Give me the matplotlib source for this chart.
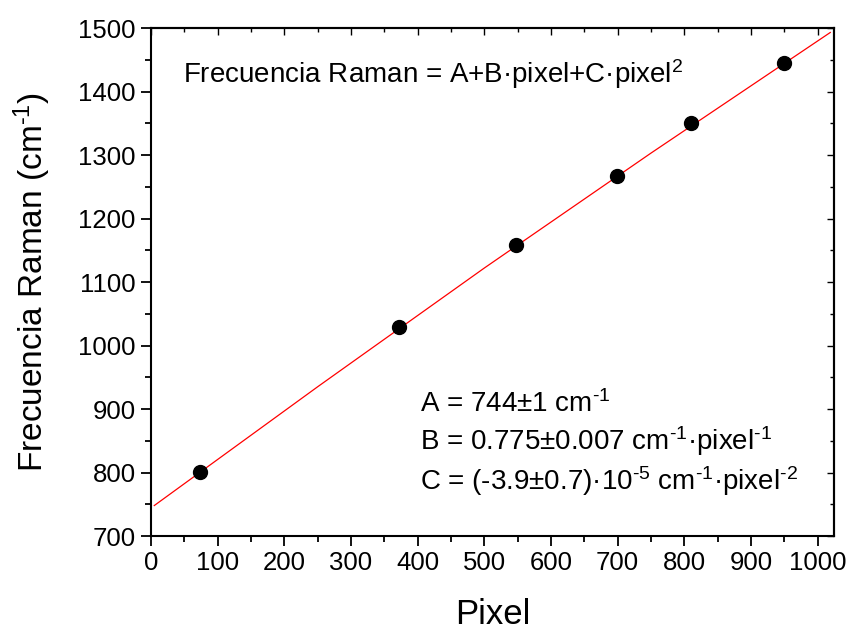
import numpy as np
import matplotlib
matplotlib.use('Agg')
import matplotlib.pyplot as plt
from matplotlib.ticker import MultipleLocator

plt.rcParams['font.family'] = ['Liberation Sans', 'DejaVu Sans']
plt.rcParams['mathtext.fontset'] = 'custom'
plt.rcParams['mathtext.rm'] = 'Liberation Sans'
plt.rcParams['mathtext.it'] = 'Liberation Sans'

# calibration points (pixel, Raman shift)
pixel = [73, 372, 548, 699, 810, 949]
raman = [801, 1029, 1158, 1267, 1350, 1445]

# fit curve
fit_pixel = [5, 250, 500, 750, 1019]
fit_raman = [748, 935, 1122, 1303, 1493]

H = '\u2010'  # hyphen used in the superscripts

fig = plt.figure(figsize=(8.5, 6.3), dpi=100)
ax = fig.add_axes([0.1776, 0.1492, 0.8039, 0.8063])

ax.plot(fit_pixel, fit_raman, color='red', lw=0.9, zorder=2)
ax.plot(pixel, raman, 'o', color='black', markersize=10, zorder=3)

ax.set_xlim(0, 1025)
ax.set_ylim(700, 1500)
ax.xaxis.set_major_locator(MultipleLocator(100))
ax.xaxis.set_minor_locator(MultipleLocator(50))
ax.yaxis.set_major_locator(MultipleLocator(100))
ax.yaxis.set_minor_locator(MultipleLocator(50))

for s in ax.spines.values():
    s.set_linewidth(1.5)
ax.tick_params(which='major', direction='out', length=7, width=1.3, labelsize=18.5, pad=4)
ax.tick_params(which='minor', direction='out', length=4, width=1.3)

# inward ticks on top and right, no labels
top = ax.secondary_xaxis('top')
top.xaxis.set_major_locator(MultipleLocator(100))
top.xaxis.set_minor_locator(MultipleLocator(50))
top.tick_params(which='major', direction='in', length=5, width=1.0, labeltop=False)
top.tick_params(which='minor', direction='in', length=3, width=1.0)
right = ax.secondary_yaxis('right')
right.yaxis.set_major_locator(MultipleLocator(100))
right.yaxis.set_minor_locator(MultipleLocator(50))
right.tick_params(which='major', direction='in', length=5, width=1.0, labelright=False)
right.tick_params(which='minor', direction='in', length=3, width=1.0)
top.spines['top'].set_linewidth(1.5)
right.spines['right'].set_linewidth(1.5)

ax.set_xlabel('Pixel', fontsize=25, labelpad=16)
ax.set_ylabel('Frecuencia Raman (cm$^{' + H + '1}$)', fontsize=24, labelpad=18)

fs = 20
ax.text(48, 1428, 'Frecuencia Raman = A+B·pixel+C·pixel$^{2}$',
        fontsize=fs, va='center', ha='left')
ax.text(404, 908, 'A = 744±1 cm$^{' + H + '1}$', fontsize=fs, va='center', ha='left')
ax.text(404, 850, 'B = 0.775±0.007 cm$^{' + H + '1}$·pixel$^{' + H + '1}$',
        fontsize=fs, va='center', ha='left')
ax.text(404, 786, 'C = (' + H + '3.9±0.7)·10$^{' + H + '5}$ cm$^{' + H + '1}$·pixel$^{' + H + '2}$',
        fontsize=fs, va='center', ha='left')

fig.savefig('out.png', dpi=100)
